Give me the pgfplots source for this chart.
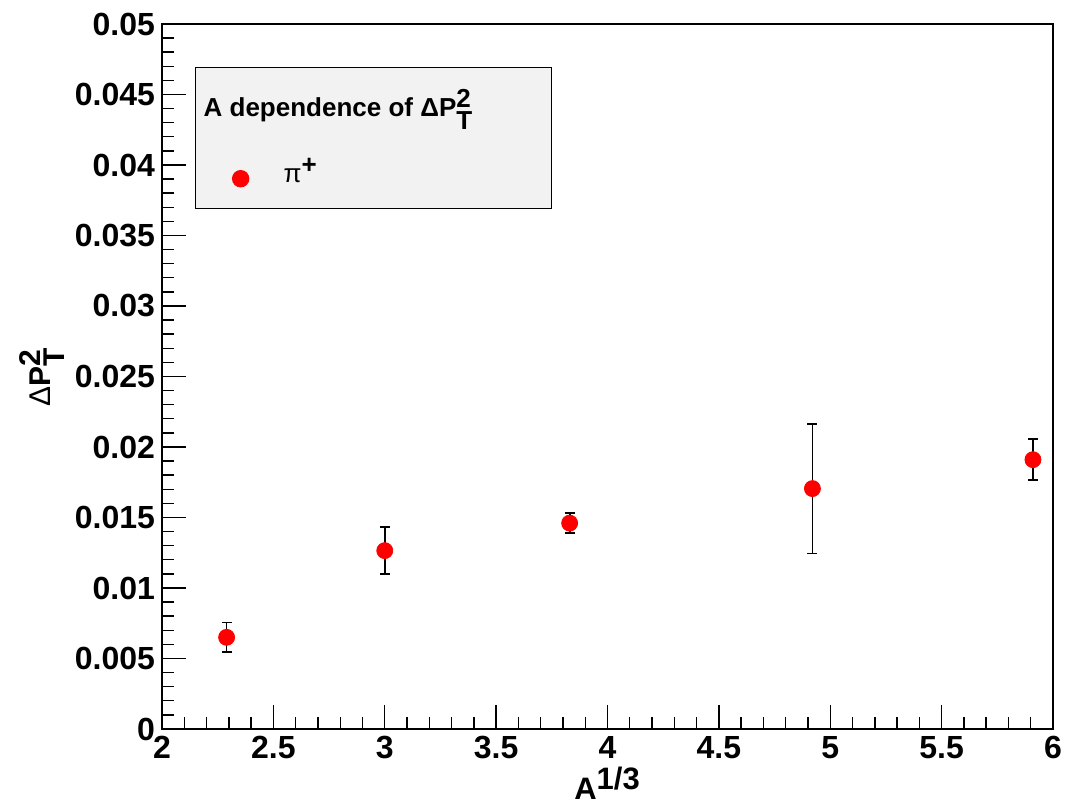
\documentclass[border=0pt]{standalone}
\usepackage{fontspec}
\setmainfont{Liberation Sans}
\usepackage{pgfplots}
\pgfplotsset{compat=1.18}
\pgfplotsset{pionimg/.style={legend image code/.code={%
  \path[draw=none, fill=none] (0pt,-4pt) rectangle (26pt,4pt);
  \path[draw=red, fill=red] (18.5pt,-1.5pt) circle[radius=4pt];}}}

\begin{document}
\begin{tikzpicture}
\begin{axis}[
  scale only axis, width=445.5pt, height=352.5pt,
  xmin=2, xmax=6, ymin=0, ymax=0.05,
  xtick={2,2.5,3,3.5,4,4.5,5,5.5,6},
  xticklabels={2,2.5,3,3.5,4,4.5,5,5.5,6},
  ytick={0,0.005,0.01,0.015,0.02,0.025,0.03,0.035,0.04,0.045,0.05},
  yticklabels={0,0.005,0.01,0.015,0.02,0.025,0.03,0.035,0.04,0.045,0.05},
  scaled y ticks=false, scaled x ticks=false,
  minor x tick num=4, minor y tick num=4,
  tick align=inside, xtick pos=bottom, ytick pos=left,
  major tick length=12pt, minor tick length=6pt,
  axis line style={line width=0.8pt},
  every tick/.style={black, line width=0.7pt},
  tick label style={font=\fontsize{16}{19}\selectfont\bfseries},
  /pgf/number format/assume math mode=true,
  xlabel={\textbf{A}$^{\textbf{1/3}}$},
  xlabel style={font=\fontsize{15.5}{19}\selectfont, at={(axis description cs:0.5,-0.077)}, anchor=center},
  ylabel={Δ\textbf{P}$^{\textbf{2}}_{\textbf{T}}$},
  ylabel style={font=\fontsize{15}{18}\selectfont, at={(axis description cs:-0.135,0.5)}, anchor=center},
  legend style={at={(axis description cs:0.037,0.939)}, anchor=north west,
    fill=black!5, draw=black, line width=0.7pt,
    inner xsep=4pt, inner ysep=8.5pt, row sep=21.5pt, column sep=14pt,
    nodes={inner sep=0pt, text height=10pt, text depth=6pt, anchor=west},
    font=\fontsize{13}{16}\selectfont},
  legend cell align=left,
]
\addlegendimage{empty legend}
\addlegendentry{\hspace{-40pt}\raisebox{-6pt}{\makebox[170pt][l]{\bfseries A dependence of Δ\textbf{P}$^{\textbf{2}}_{\textbf{T}}$}}}
\addplot+[only marks, mark=*, mark size=4pt, red, mark options={fill=red, draw=red},
  pionimg,
  error bars/.cd, y dir=both, y explicit,
  error bar style={line width=0.9pt, black},
  error mark options={rotate=90, mark size=2.5pt, line width=0.9pt, black},
  ]
  coordinates {
    (2.29, 0.0065)  +- (0, 0.00105)
    (3.00, 0.01265) +- (0, 0.00165)
    (3.83, 0.0146)  +- (0, 0.00072)
    (4.92, 0.01705) +- (0, 0.0046)
    (5.91, 0.0191)  +- (0, 0.00145)
  };
\addlegendentry{\raisebox{-1.5pt}{π$^{\textbf{+}}$}}
\end{axis}
\pgfresetboundingbox
\path ([xshift=-81pt,yshift=-37.5pt]current axis.south west) rectangle ([xshift=8.5pt,yshift=12pt]current axis.north east);
\end{tikzpicture}
\end{document}
